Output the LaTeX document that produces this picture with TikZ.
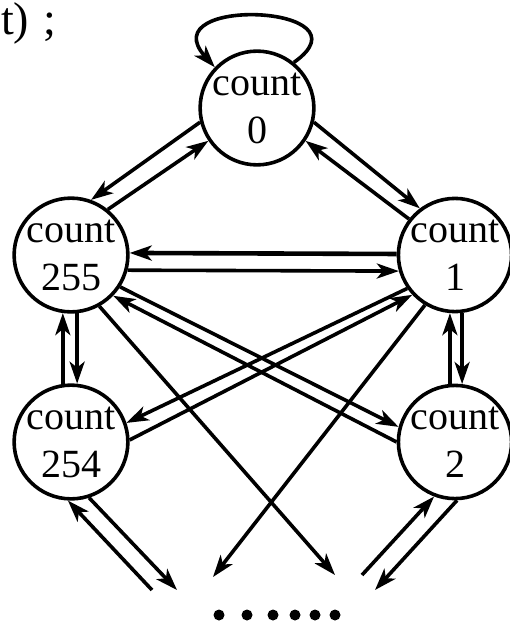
\documentclass[tikz,border=0pt]{standalone}
\usepackage{fontspec}
\setmainfont{Liberation Serif}
\usetikzlibrary{arrows.meta}
\tikzset{
  state/.style={circle, draw, line width=3.6pt, minimum size=110pt, inner sep=0pt,
    align=center, font=\fontsize{40}{48}\selectfont},
  arr/.style={line width=3.6pt, -{Stealth[length=22pt,width=15pt,inset=6pt]}},
  dot/.style={fill=black}
}
\begin{document}
\begin{tikzpicture}[x=1pt,y=-1pt]
\useasboundingbox (0,0) rectangle (509,626);

% fragment of the preceding line of code
\node[anchor=base west, inner sep=0pt, font=\fontsize{46}{56}\selectfont] (tail) at (1,35) {t)\hspace{3pt} ;};

% states of the counter
\node[state] (n0)   at (257,108) {count\\0};
\node[state] (n255) at (71,255)  {count\\255};
\node[state] (n1)   at (455,255) {count\\1};
\node[state] (n254) at (71,442)  {count\\254};
\node[state] (n2)   at (455,442) {count\\2};

% loose ends towards the remaining states
\coordinate (e1) at (335,575);
\coordinate (e2) at (213,577);
\coordinate (e3) at (177,590);
\coordinate (e4) at (152,590);
\coordinate (e5) at (362,575);
\coordinate (e6) at (375,590);

% self loop on count 0
\draw[arr] (n0.51) .. controls (375,5) and (150,-5) .. (n0.136);

% 0 <-> 255 and 0 <-> 1
\draw[arr] (n0.194) -- (n255.70);
\draw[arr] (n255.51) -- (n0.214);
\draw[arr] (n0.346) -- (n1.127);
\draw[arr] (n1.142) -- (n0.326);

% 255 <-> 1
\draw[arr, line width=4.6pt] (n1.179) -- (n255.2);
\draw[arr] (n255.345) -- (n1.196);

% 255 <-> 254 and 1 <-> 2
\draw[arr] (n254.98) -- (n255.262);
\draw[arr] (n255.276) -- (n254.84);
\draw[arr] (n2.95) -- (n1.265);
\draw[arr] (n1.277) -- (n2.83);

% crossing diagonals
\draw[arr] (n255.327) -- (n2.165);
\draw[arr] (n2.180) -- (n255.316);
\draw[arr] (n1.215) -- (n254.19);
\draw[arr] (n254.2) -- (n1.223);

% towards the remaining states
\draw[arr] (n255.299) -- (e1);
\draw[arr] (n1.239) -- (e2);
\draw[arr] (n254.288) -- (e3);
\draw[arr] (e4) -- (n254.267);
\draw[arr] (e5) -- (n2.249);
\draw[arr] (n2.272) -- (e6);

% ellipsis
\foreach \x in {219,247,273,295,315,335}
  \fill[dot] (\x,615) circle (5.5);
\end{tikzpicture}
\end{document}
